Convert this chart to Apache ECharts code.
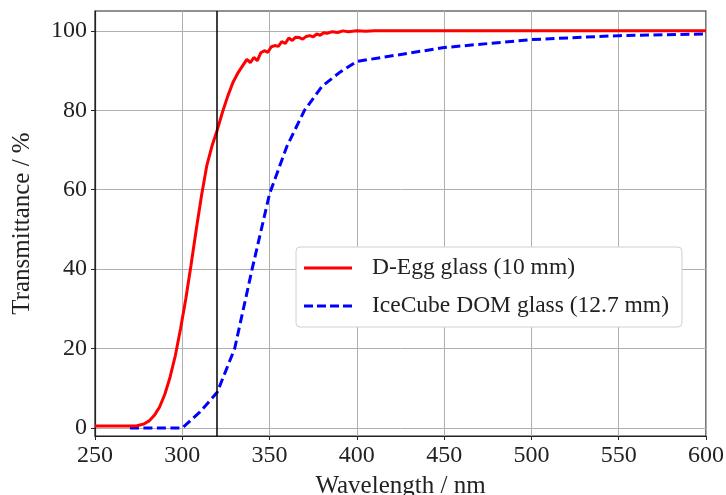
<!DOCTYPE html>
<html><head><meta charset="utf-8">
<script src="https://cdn.jsdelivr.net/npm/echarts@6/dist/echarts.min.js"></script>
<style>html,body{margin:0;padding:0;background:#fff}#c{width:726px;height:495px}</style>
</head><body><div id="c"></div>
<script>
const dEggWl = [250,260,270,274,278,281,284,287,290,293,296,299,302,305,308,311,314,317,320,323,326,329,332,335,337,339,341,343,345,347,349,351,353,355,357,359,361,363,365,367,369,371,373,375,377,379,381,383,386,389,392,395,400,405,410,420,450,500,550,600];
const dEggT  = [0.5,0.5,0.5,0.6,1.0,1.8,3.2,5.3,8.5,12.8,18.2,25,32.5,41,50,58.5,66,71,75,79.5,83.5,87,89.5,91.5,92.8,92,93.3,92.5,94.5,95,94.6,96,96.3,96.1,97.3,96.8,98.2,97.6,98.4,98.3,97.9,98.6,98.8,98.5,99.2,98.9,99.5,99.4,99.8,99.6,100,99.8,100,99.9,100,100,100,100,100,100];
const domWl = [270,280,290,300,310,320,330,340,350,360,370,380,390,400,450,500,550,600];
const domT  = [0,0,0,0,4,9,20,40,59,71,80,86,89.5,92.3,95.8,97.8,98.8,99.2];
const xTicks = [250,300,350,400,450,500,550,600];
const yTicks = [0,20,40,60,80,100];
const refWl = 320;

const font = 'Liberation Serif';
const chart = echarts.init(document.getElementById('c'));
chart.setOption({
  animation:false,
  backgroundColor:'#fff',
  textStyle:{fontFamily:font},
  grid:{left:95,right:20,top:11,bottom:59,containLabel:false,outerBoundsMode:'none',show:true,borderColor:'#222',borderWidth:1.2,backgroundColor:'transparent'},
  legend:{
    left:296, top:247, orient:'vertical',
    backgroundColor:'#fff', borderColor:'#d0d0d0', borderWidth:1, borderRadius:4,
    padding:[9,13,9,8], itemGap:14, itemWidth:48, itemHeight:14,
    textStyle:{fontFamily:font,fontSize:23.5,color:'#222',padding:[0,0,0,15]},
    data:[{name:'D-Egg glass (10 mm)',icon:'path://M0,6 L48,6 L48,9 L0,9 Z'},{name:'IceCube DOM glass (12.7 mm)',icon:'path://M0,6 L9,6 L9,9 L0,9 Z M13,6 L22,6 L22,9 L13,9 Z M26,6 L35,6 L35,9 L26,9 Z M39,6 L48,6 L48,9 L39,9 Z'}]
  },
  xAxis:{
    type:'value', min:250, max:600, interval:50,
    name:'Wavelength / nm', nameLocation:'middle', nameGap:38,
    nameTextStyle:{fontFamily:font,fontSize:25,color:'#222'},
    axisLine:{show:true,onZero:false,lineStyle:{color:'#222',width:1.2}},
    axisTick:{show:true,length:4,lineStyle:{color:'#222'}},
    axisLabel:{fontFamily:font,fontSize:24,color:'#222',margin:8},
    splitLine:{show:true,lineStyle:{color:'#b0b0b0',width:1}}
  },
  yAxis:{
    type:'value', min:-2, max:105,
    name:'Transmittance / %', nameLocation:'middle', nameGap:60,
    nameTextStyle:{fontFamily:font,fontSize:25,color:'#222'},
    axisLine:{show:true,onZero:false,lineStyle:{color:'#222',width:1.2}},
    axisTick:{show:true,length:4,lineStyle:{color:'#222'},customValues:yTicks},
    axisLabel:{fontFamily:font,fontSize:24,color:'#222',margin:8,customValues:yTicks},
    splitLine:{show:true,lineStyle:{color:'#b0b0b0',width:1},customValues:yTicks}
  },
  series:[
    {name:'D-Egg glass (10 mm)', type:'line', data:dEggWl.map((w,i)=>[w,dEggT[i]]),
     showSymbol:false, color:'#ff0000', lineStyle:{color:'#ff0000',width:3}, z:3,
     markLine:{silent:true,symbol:['none','none'],label:{show:false},
       lineStyle:{color:'#000',width:1.5,type:'solid'},data:[{xAxis:refWl}]}},
    {name:'IceCube DOM glass (12.7 mm)', type:'line', data:domWl.map((w,i)=>[w,domT[i]]),
     showSymbol:false, color:'#0000ff', lineStyle:{color:'#0000ff',width:3,type:[9,4.5]}, z:2}
  ]
});
</script></body></html>
